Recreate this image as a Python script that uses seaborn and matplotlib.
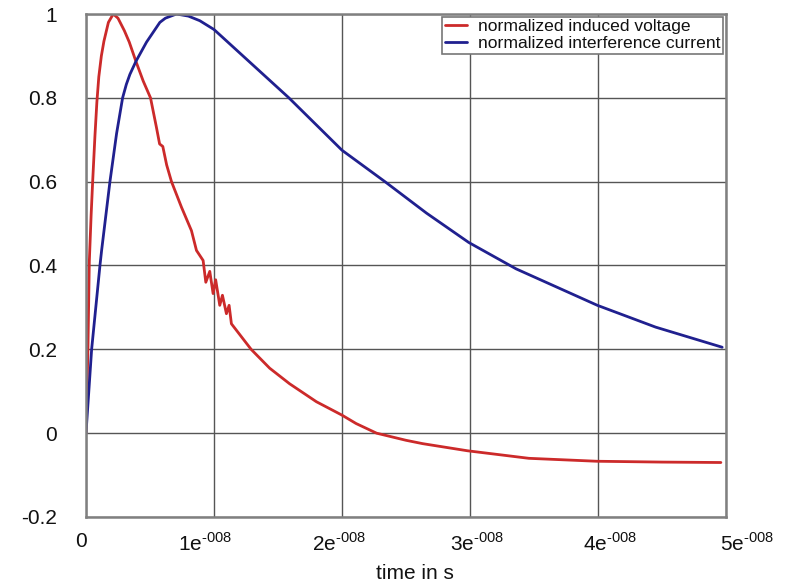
import matplotlib
matplotlib.use("Agg")
import matplotlib.pyplot as plt
import matplotlib.transforms as mtransforms
import seaborn as sns
import pandas as pd
import numpy as np

# time in units of 1e-8 s
voltage_t = [0, 0.015, 0.026, 0.04, 0.052, 0.07, 0.085, 0.10, 0.12, 0.14, 0.175,
             0.213, 0.25, 0.30, 0.338, 0.39, 0.447, 0.504, 0.55, 0.575, 0.60,
             0.63, 0.668, 0.746, 0.824, 0.863, 0.915, 0.936, 0.967, 0.993, 1.013, 1.045,
             1.066, 1.097, 1.118, 1.136, 1.29, 1.435, 1.59, 1.80, 2.0, 2.11, 2.27, 2.5,
             2.63, 2.98, 3.46, 3.99, 4.5, 4.96]
voltage_v = [0, 0.2, 0.41, 0.52, 0.6, 0.71, 0.79, 0.85, 0.9, 0.935, 0.98,
             1.0, 0.99, 0.96, 0.933, 0.887, 0.84, 0.80, 0.73, 0.69, 0.684,
             0.64, 0.60, 0.539, 0.483, 0.436, 0.412, 0.36, 0.386, 0.333, 0.366, 0.305,
             0.329, 0.285, 0.305, 0.261, 0.2, 0.155, 0.118, 0.075, 0.043, 0.023, 0.0, -0.017,
             -0.025, -0.042, -0.060, -0.067, -0.069, -0.070]

current_t = [0, 0.044, 0.109, 0.122, 0.187, 0.239, 0.286, 0.315, 0.343, 0.39, 0.473, 0.577,
             0.62, 0.707, 0.80, 0.889, 1.0, 1.28, 1.585, 2.0, 2.34, 2.66, 2.99, 3.36, 3.995,
             4.45, 4.97]
current_v = [0, 0.2, 0.4, 0.436, 0.6, 0.715, 0.8, 0.832, 0.856, 0.887, 0.933, 0.98,
             0.99, 1.0, 0.995, 0.984, 0.963, 0.885, 0.8, 0.675, 0.599, 0.525, 0.455, 0.392, 0.305,
             0.253, 0.205]

x_ticks = [0, 1e-8, 2e-8, 3e-8, 4e-8, 5e-8]
x_tick_labels = ["0", "1e$^{\\mathregular{\u2010008}}$", "2e$^{\\mathregular{\u2010008}}$",
                 "3e$^{\\mathregular{\u2010008}}$", "4e$^{\\mathregular{\u2010008}}$",
                 "5e$^{\\mathregular{\u2010008}}$"]
y_ticks = [-0.2, 0, 0.2, 0.4, 0.6, 0.8, 1.0]
y_tick_labels = ["-0.2", "0", "0.2", "0.4", "0.6", "0.8", "1"]

label_v = "normalized induced voltage"
label_i = "normalized interference current"

df = pd.concat([
    pd.DataFrame({"t": np.array(voltage_t) * 1e-8, "v": voltage_v, "series": label_v}),
    pd.DataFrame({"t": np.array(current_t) * 1e-8, "v": current_v, "series": label_i}),
])

sns.set_theme(style="white")
plt.rcParams["font.family"] = ["Liberation Sans", "DejaVu Sans"]
plt.rcParams["mathtext.fontset"] = "custom"
plt.rcParams["mathtext.rm"] = "Liberation Sans"

fig = plt.figure(figsize=(7.85, 5.85), dpi=100)
ax = fig.add_axes([86 / 785, 1 - 517 / 585, 640 / 785, 503 / 585])

sns.lineplot(data=df, x="t", y="v", hue="series", sort=False, estimator=None,
             palette={label_v: "#cc2a2a", label_i: "#20208f"}, linewidth=2.0, ax=ax)

ax.set_xlim(0, 5e-8)
ax.set_ylim(-0.2, 1.0)
ax.set_xticks(x_ticks)
ax.set_xticklabels(x_tick_labels)
ax.set_yticks(y_ticks)
ax.set_yticklabels(y_tick_labels)
ax.tick_params(axis="both", length=0, labelsize=15, colors="#111111")
ax.tick_params(axis="x", pad=11)
ax.tick_params(axis="y", pad=21)
ax.grid(True, color="#555555", linewidth=1.0)
for s in ax.spines.values():
    s.set_color("#808080")
    s.set_linewidth(1.8)

# the original software spaces its x labels slightly wider than the grid
label_shift_px = [-5, -9, -3, 7, 12, 21]
for lab, dx in zip(ax.get_xticklabels(), label_shift_px):
    lab.set_transform(lab.get_transform() +
                      mtransforms.ScaledTranslation(dx / 100, 0, fig.dpi_scale_trans))

ax.set_ylabel("")
ax.set_xlabel("time in s", fontsize=15, color="#111111")
ax.xaxis.set_label_coords(0.514, -0.094)

leg = ax.legend(loc="upper right", fontsize=12.6, frameon=True, fancybox=False,
                edgecolor="#777777", framealpha=1, borderpad=0.15, labelspacing=0.08,
                handlelength=1.27, handletextpad=0.63, borderaxespad=0.15)
leg.get_frame().set_linewidth(1.2)
for t in leg.get_texts():
    t.set_color("#111111")

fig.savefig("out.png", dpi=100)
